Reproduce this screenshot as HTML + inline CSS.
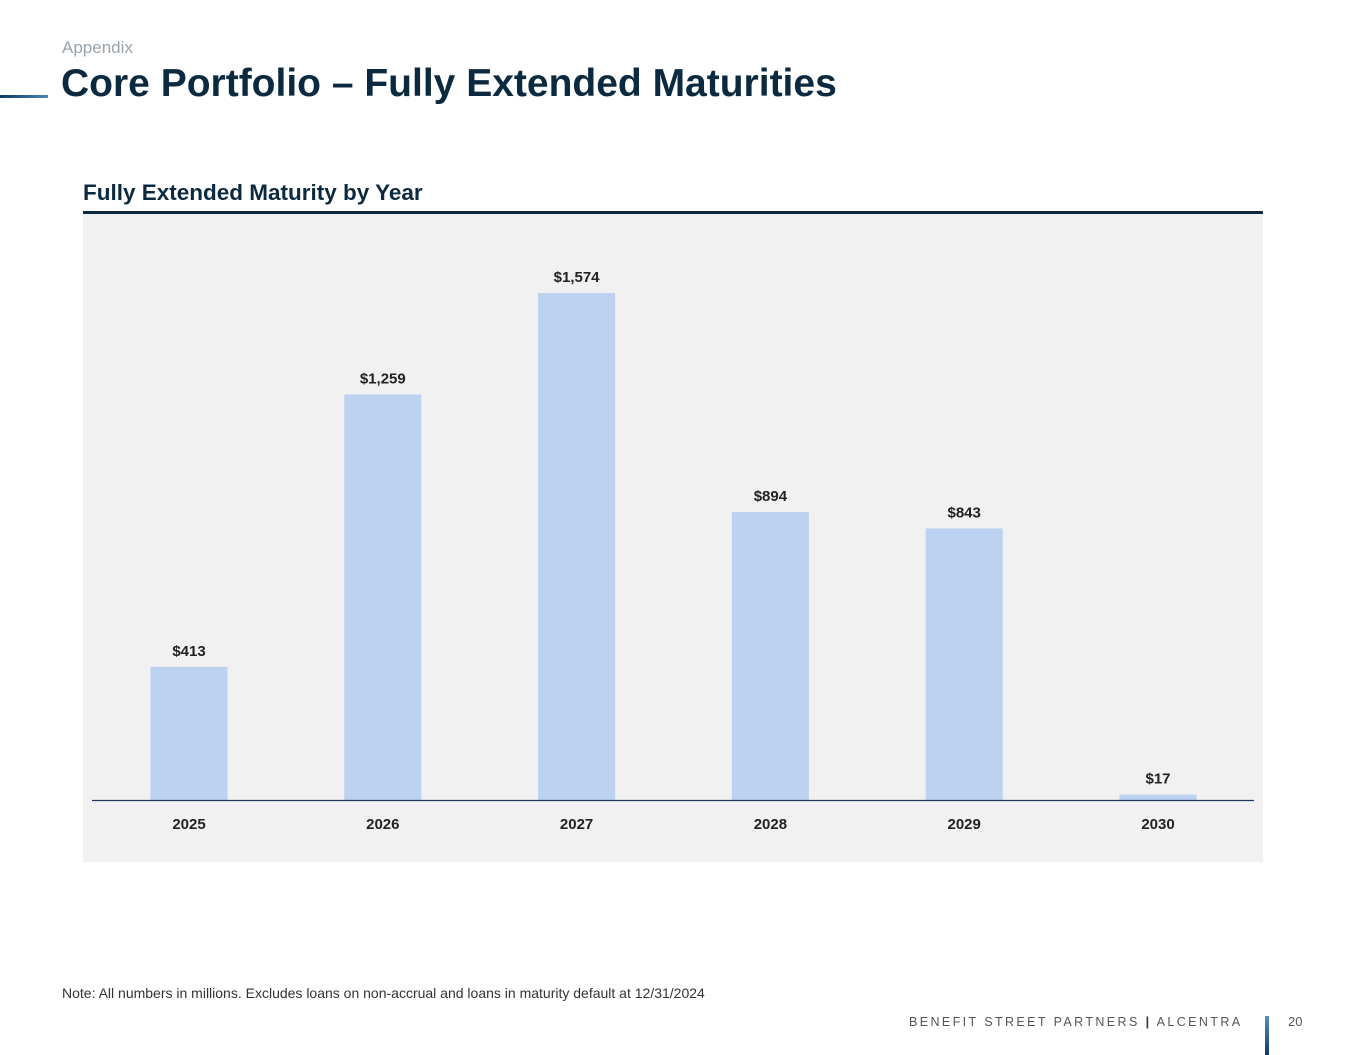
<!DOCTYPE html>
<html><head><meta charset="utf-8"><style>
body{margin:0;width:1365px;height:1055px;background:#fff;position:relative;font-family:"Liberation Sans",sans-serif;overflow:hidden}
.abs{position:absolute;white-space:nowrap}
</style></head><body>
<div class="abs" style="left:62px;top:38px;font-size:17px;color:#9aa3ab">Appendix</div>
<div class="abs" style="left:0;top:95px;width:48px;height:3px;background:linear-gradient(90deg,#0d3a63,#4f86b8)"></div>
<div class="abs" style="left:61px;top:62px;font-size:39px;font-weight:bold;color:#0b2a40">Core Portfolio – Fully Extended Maturities</div>
<div class="abs" style="left:83px;top:180px;font-size:22.5px;font-weight:bold;color:#0b2a40">Fully Extended Maturity by Year</div>
<svg class="abs" style="left:0;top:0" width="1365" height="1055">
<rect x="83" y="213" width="1180" height="649" fill="#f0f1f0"/>
<rect x="83" y="211" width="1180" height="3" fill="#0b2a40"/>
<g id="bars"></g>
<line x1="92" y1="800.5" x2="1254" y2="800.5" stroke="#1d3a5c" stroke-width="1.3"/>
</svg>
<div class="abs" style="left:62px;top:985px;font-size:14px;color:#333">Note: All numbers in millions. Excludes loans on non-accrual and loans in maturity default at 12/31/2024</div>
<div class="abs" style="left:909px;top:1015px;font-size:12.5px;letter-spacing:2.4px;color:#555">BENEFIT STREET PARTNERS <b style="color:#333">|</b> ALCENTRA</div>
<div class="abs" style="left:1265px;top:1016px;width:4px;height:39px;background:linear-gradient(#5b8fc0,#0d3a63)"></div>
<div class="abs" style="left:1288px;top:1014px;font-size:13px;color:#555">20</div>
<script>
const categories=["2025","2026","2027","2028","2029","2030"];
const values=[413,1259,1574,894,843,17];
const valueLabels=["$413","$1,259","$1,574","$894","$843","$17"];
const ns="http://www.w3.org/2000/svg";
const g=document.getElementById('bars');
const x0=189,step=193.8,base=800,scale=507/1574,bw=77;
const xPos=i=>x0+i*step;
const yPos=v=>base-v*scale;
categories.forEach((c,i)=>{
  const r=document.createElementNS(ns,'rect');
  r.setAttribute('x',xPos(i)-bw/2);r.setAttribute('y',yPos(values[i]));
  r.setAttribute('width',bw);r.setAttribute('height',base-yPos(values[i]));
  r.setAttribute('fill','#bdd2f0');
  
  
  g.appendChild(r);
  const t=document.createElementNS(ns,'text');
  t.setAttribute('x',xPos(i));t.setAttribute('y',yPos(values[i])-11);
  t.setAttribute('text-anchor','middle');t.setAttribute('font-size','15');t.setAttribute('font-weight','bold');t.setAttribute('fill','#222');
  t.textContent=valueLabels[i];
  
  
  g.appendChild(t);
  const l=document.createElementNS(ns,'text');
  l.setAttribute('x',xPos(i));l.setAttribute('y',829);
  l.setAttribute('text-anchor','middle');l.setAttribute('font-size','15');l.setAttribute('font-weight','bold');l.setAttribute('fill','#222');
  l.textContent=c;
  
  
  g.appendChild(l);
});
</script>
</body></html>
